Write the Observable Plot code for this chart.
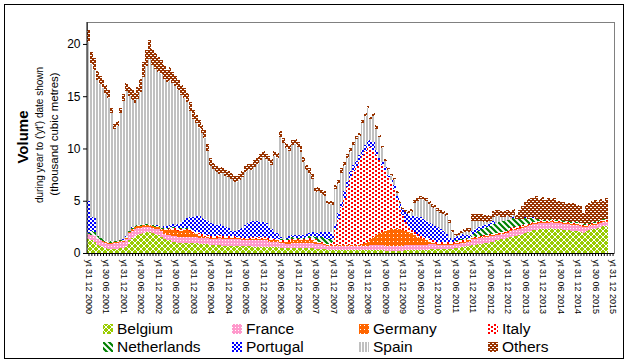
<!DOCTYPE html>
<html><head><meta charset="utf-8">
<script src="https://cdn.jsdelivr.net/npm/d3@7"></script>
<script src="https://cdn.jsdelivr.net/npm/@observablehq/plot@0.6"></script>
<style>
body{margin:0;background:#fff;font-family:"Liberation Sans",Arial,sans-serif;}
#wrap{position:relative;width:628px;height:363px;overflow:hidden;background:#fff;}
#border{position:absolute;left:4px;top:4px;width:620px;height:355px;border:1px solid #000;box-sizing:border-box;}
#chart{position:absolute;left:0;top:0;}
.item{position:absolute;display:flex;align-items:center;height:16px;font-size:15.5px;color:#000;white-space:nowrap;}
.item svg{margin-right:4px;display:block;}
</style></head>
<body>
<svg width="0" height="0" style="position:absolute">
<defs>
<pattern id="pBE" width="6" height="6" patternUnits="userSpaceOnUse"><rect width="6" height="6" fill="#99CC00"/><path d="M0,0L6,6M6,0L0,6" stroke="#fff" stroke-width="1"/></pattern>
<pattern id="pFR" width="3" height="3" patternUnits="userSpaceOnUse"><rect width="3" height="3" fill="#FF99CC"/><rect width="1" height="1" fill="#fff"/></pattern>
<pattern id="pDE" width="4" height="4" patternUnits="userSpaceOnUse"><rect width="4" height="4" fill="#FF6600"/><rect x="1" y="1" width="1" height="1" fill="#fff"/></pattern>
<pattern id="pIT" width="6" height="4" patternUnits="userSpaceOnUse"><rect width="6" height="4" fill="#fff"/><rect width="2" height="2" fill="#FF0000"/><rect x="3" y="2" width="2" height="2" fill="#FF0000"/></pattern>
<pattern id="pNL" width="6" height="6" patternUnits="userSpaceOnUse"><rect width="6" height="6" fill="#fff"/><path d="M0,0L6,6M-3,3L3,9M3,-3L9,3" stroke="#008000" stroke-width="2.2"/></pattern>
<pattern id="pPT" width="4" height="4" patternUnits="userSpaceOnUse"><rect width="4" height="4" fill="#fff"/><rect width="2" height="2" fill="#0000FF"/><rect x="2" y="2" width="2" height="2" fill="#0000FF"/></pattern>
<pattern id="pES" width="3" height="3" patternUnits="userSpaceOnUse"><rect width="3" height="3" fill="#fff"/><rect width="2" height="3" fill="#C0C0C0"/></pattern>
<pattern id="pOT" width="4" height="4" patternUnits="userSpaceOnUse"><rect width="4" height="4" fill="#993300"/><rect x="0" y="1" width="2" height="1" fill="#fff"/><rect x="2" y="3" width="2" height="1" fill="#fff"/></pattern>
</defs></svg>
<div id="wrap"><div id="border"></div><div id="chart"></div><div id="legend"></div></div>
<script>
const series = ["Belgium","France","Germany","Italy","Netherlands","Portugal","Spain","Others"];
const patternFills = ["url(#pBE)","url(#pFR)","url(#pDE)","url(#pIT)","url(#pNL)","url(#pPT)","url(#pES)","url(#pOT)"];

const tickLabels = ["yt 31 12 2000","yt 30 06 2001","yt 31 12 2001","yt 30 06 2002","yt 31 12 2002","yt 30 06 2003","yt 31 12 2003","yt 30 06 2004","yt 31 12 2004","yt 30 06 2005","yt 31 12 2005","yt 30 06 2006","yt 31 12 2006","yt 30 06 2007","yt 31 12 2007","yt 30 06 2008","yt 31 12 2008","yt 30 06 2009","yt 31 12 2009","yt 30 06 2010","yt 31 12 2010","yt 30 06 2011","yt 31 12 2011","yt 30 06 2012","yt 31 12 2012","yt 30 06 2013","yt 31 12 2013","yt 30 06 2014","yt 31 12 2014","yt 30 06 2015","yt 31 12 2015"];

const belgium = [
1.3,1.2,1.1,0.8,0.7,0.6,0.5,0.4,0.4,0.4,0.4,0.5,0.5,0.7,
1.2,1.4,1.6,1.7,1.8,1.9,2.0,2.0,1.9,1.8,1.7,1.5,
1.3,1.2,1.2,1.1,1.1,1.0,1.0,1.0,1.0,1.0,1.0,1.0,0.9,0.9,0.9,
0.9,0.8,0.8,0.8,0.8,0.7,0.7,0.7,0.7,0.7,0.7,0.7,0.7,0.7,0.7,0.7,0.6,0.6,0.6,0.6,
0.6,0.6,0.6,0.6,0.6,0.5,0.5,0.5,0.5,0.5,0.5,0.5,0.5,0.5,0.5,0.5,0.5,0.4,0.4,0.4,0.4,0.3,0.3,
0.3,0.3,0.3,0.3,0.3,0.3,0.3,0.3,0.3,0.3,0.3,0.3,0.3,0.3,0.3,0.3,0.3,0.3,
0.2,0.2,0.2,0.2,0.2,0.2,0.2,
0.3,0.3,0.3,0.3,0.3,0.3,0.3,0.3,
0.4,0.4,0.4,0.4,0.4,0.4,0.4,0.4,0.4,
0.5,0.5,0.6,0.6,0.7,0.7,
0.8,0.8,0.9,0.9,1.0,1.0,1.1,1.1,1.2,1.2,1.3,1.3,1.4,1.5,1.6,1.6,1.7,1.8,1.9,
2.0,2.1,2.2,2.2,2.3,2.3,2.3,2.3,2.4,2.3,2.3,2.3,2.2,2.2,2.2,2.1,2.1,2.1,2.0,1.9,
2.1,2.2,2.3,2.3,2.4,2.5,2.6,2.6,
0,0];

const france = [
0.5,0.5,0.5,0.5,0.5,0.5,0.5,0.5,0.5,0.6,0.6,0.6,0.6,0.6,
0.7,0.7,0.7,0.7,0.6,0.6,0.5,0.5,0.5,0.5,0.6,0.6,
0.5,0.5,0.5,0.5,0.5,0.5,0.5,0.5,0.5,0.5,0.5,0.5,0.5,0.5,0.5,
0.5,0.5,0.5,0.5,0.6,0.6,0.6,0.6,0.6,0.6,0.6,0.6,0.5,0.5,0.5,0.5,0.6,0.6,0.6,0.6,
0.6,0.5,0.5,0.5,0.5,0.5,0.5,0.4,0.4,0.5,0.5,0.5,0.5,0.5,0.5,0.5,0.5,0.5,0.5,0.5,0.4,0.4,0.4,
0.4,0.4,0.4,0.4,0.4,0.4,0.4,0.4,0.4,0.4,0.4,0.4,0.4,
0.5,0.5,0.5,0.5,0.5,0.5,0.5,0.5,0.5,0.5,0.5,0.5,0.5,0.5,0.5,0.5,0.5,0.5,0.5,0.5,0.5,0.5,0.5,
0.4,0.4,0.4,0.4,0.4,0.4,0.4,0.4,0.4,0.4,0.4,0.4,
0.5,0.5,0.5,0.5,0.5,0.5,0.5,0.5,0.5,0.5,0.5,0.5,0.5,
0.6,0.6,0.6,0.6,0.6,0.6,0.6,0.6,0.6,0.6,0.6,0.6,0.6,0.6,0.6,0.6,0.6,0.6,0.6,0.6,0.6,0.6,0.6,0.6,0.6,0.6,
0.4,0.4,0.4,0.4,0.4,0.4,0.4,0.4,
0,0];

const germany = [
0.05,0.05,0.05,0.05,0.05,0.05,0.05,0.05,0.05,0.05,0.05,0.05,0.05,
0.1,0.15,
0.2,0.2,0.2,0.2,0.2,0.2,0.2,0.2,0.2,0.2,0.2,
0.4,0.5,0.6,0.6,0.6,0.6,0.6,0.7,0.7,0.6,0.4,0.3,0.2,0.2,0.1,
0.1,0.1,0.1,0.1,0.1,0.1,0.1,0.1,0.1,0.1,0.1,0.1,0.1,0.1,0.1,0.1,0.1,0.1,0.1,0.1,0.1,0.1,0.1,0.1,0.1,0.1,0.1,
0.2,0.2,0.2,0.2,0.2,0.2,0.2,0.2,0.2,0.2,0.2,
0.1,0.1,0.1,0.1,0.1,0.1,0.1,0.1,0.1,0.1,0.1,0.1,0.1,0.1,0.1,
0.2,0.3,0.4,0.5,0.7,0.9,1.1,1.2,1.4,1.5,1.6,1.6,1.6,1.6,1.5,1.3,1.2,1.1,0.9,0.7,0.6,0.5,0.4,0.2,0.1,0.1,
0.1,0.1,0.1,0.1,0.1,0.1,0.1,0.1,0.1,0.1,0.1,0.1,0.1,0.1,0.1,0.1,0.1,0.1,0.1,0.1,
0.1,0.1,0.1,0.1,0.1,0.1,0.1,0.1,0.1,0.1,0.1,0.1,0.1,0.1,0.1,0.1,0.1,0.1,0.1,0.1,
0.1,0.1,0.1,0.1,0.1,0.1,0.1,0.1,0.1,0.1,0.1,0.1,0.1,0.1,0.1,0.1,0.1,0.1,0.1,
0,0];

const italy = [
0,0,0,0,0,0,0,0,0,0,0,0,0,0,0,0,0,0,0,0,0,0,0,0,0,0,
0.1,0.1,0.1,0.2,0.2,0.2,0.2,0.1,0.1,0.2,0.2,0.2,0.3,0.2,0.3,
0.2,0.2,0.2,0.2,0.2,0.2,0.2,0.2,0.2,0.2,0.1,0.1,0.1,0.1,0.1,0.2,0.2,0.2,0.2,0.2,0.2,0.2,0.2,0.1,0.1,
0.1,0.1,0.1,0.1,0.1,0.1,0.1,0.1,0.1,
0.2,0.2,0.2,0.2,
0.1,0.1,0.1,0.1,
0.2,
0.3,1.4,2.5,3.6,4.5,5.5,6.4,7.0,7.5,8.1,8.5,8.8,9.1,8.8,8.4,7.7,
7.0,6.4,5.8,5.1,4.5,3.8,2.8,2.0,1.4,0.9,0.6,0.3,0.3,0.3,
0.2,0.2,0.2,0.2,0.2,0.2,0.2,0.2,0.2,0.2,0.2,0.2,
0.15,0.15,0.15,0.15,0.15,0.15,0.15,0.15,0.15,0.15,0.15,0.15,0.15,0.15,0.15,0.15,0.15,0.15,0.15,0.15,0.15,0.15,0.15,0.15,0.15,
0.05,0.05,0.05,0.05,0.05,0.05,0.05,0.05,0.05,0.05,0.05,0.05,0.05,0.05,0.05,0.05,0.05,0.05,0.05,0.05,0.05,0.05,0.05,0.05,0.05,0.05,0.05,0.05,
0,0];

const netherlands = [
0.1,0.4,0.4,0.3,0.2,0.2,0.1,0.1,0.2,0.1,0.1,0.1,0.1,0.1,
0.05,0.05,0.05,0.05,0.05,0.05,0.05,0.05,0.05,0.05,
0.05,0.05,0.05,0.05,0.05,0.05,0.05,0.05,0.05,0.05,
0.05,0.05,0.05,0.05,0.05,0.05,0.05,0.05,0.05,0.05,
0.05,0.05,0.05,0.05,0.05,0.05,0.05,0.05,0.05,0.05,
0.05,0.05,0.05,0.05,0.05,0.05,0.05,0.05,0.05,0.05,
0.05,0.05,
0.1,0.1,0.1,0.2,0.2,0.1,0.1,0.1,0.1,0.1,0.2,0.2,0.2,
0.3,0.4,0.4,0.4,0.3,0.2,0.1,
0,0,0,0,0,0,0,0,0,0,
0,0,0,0,0,0,0,0,0,0,
0,0,0,0,0,0,0,0,0,0,
0,0,0,0,0,0,0,0,0,0,
0.1,0.1,0.1,0.1,0.1,0.1,
0.3,0.4,0.5,0.6,0.6,0.7,0.7,0.9,0.9,1.0,1.0,1.0,1.0,0.9,0.9,0.8,0.7,0.6,0.6,0.5,0.5,0.4,0.3,0.2,
0.1,0.1,0.1,0.1,0.1,0.1,0.1,0.1,0.1,0.1,
0.1,0.1,0.1,0.1,0.1,0.1,0.1,0.1,0.1,0.1,
0.1,0.1,0.1,
0,0];

const portugal = [
3.0,1.3,1.3,
0,0,0,0,0,0,0,0,0,
0.1,0.1,
0,0.1,0,0,0,0,0,0,0,0.1,0.1,0,
0.2,0.2,0.2,0.3,0.2,0.4,0.6,0.8,1.0,1.1,1.3,1.5,1.6,1.5,1.4,
1.3,1.2,1.1,1.0,1.0,0.9,0.8,0.7,0.5,0.5,0.6,0.7,0.9,1.2,1.4,1.5,1.5,1.5,1.4,1.4,
1.3,1.1,0.8,0.7,0.6,0.2,0,0.1,0.2,0.2,0.3,0.3,0.3,0.3,0.3,0.3,0.4,0.4,0.5,0.5,0.6,0.7,0.7,
0.5,0.5,0.5,0.5,0.6,0.6,0.6,0.6,0.5,0.5,0.5,0.5,0.5,0.7,0.7,0.5,
0.2,0.3,0.3,0.2,0.2,0.4,0.4,0.4,0.6,0.9,1.1,1.3,1.5,1.6,1.8,1.8,1.7,1.6,1.6,1.4,1.4,1.2,1.0,0.7,0.3,0.1,
0.3,0.4,0.5,0.4,0.3,0.3,0.3,0.3,0.3,0.3,0.3,0.3,0.3,0.3,
0.05,0.05,0.05,0.05,0.05,0.05,0.05,0.05,0.05,0.05,
0.05,0.05,0.05,0.05,0.05,0.05,0.05,0.05,0.05,0.05,
0.05,0.05,0.05,0.05,0.05,0.05,0.05,0.05,0.05,0.05,
0.05,0.05,0.05,0.05,0.05,0.05,0.05,0.05,0.05,
0,0];

const spain = [
15.2,14.6,14.2,14.9,14.7,14.4,14.1,13.8,12.2,10.7,11.0,12.1,13.2,13.9,
12.9,12.2,11.8,12.1,12.8,14.1,15.1,15.8,15.3,15.0,14.7,14.8,
14.1,13.8,13.9,13.5,13.3,12.8,12.2,11.7,11.1,10.1,9.4,8.9,8.4,8.1,7.8,
6.7,5.5,5.3,5.1,4.8,5.1,4.9,4.9,4.9,4.6,4.6,4.7,4.9,5.1,5.1,4.9,5.2,5.5,5.9,6.2,
6.1,6.2,6.2,7.2,7.1,9.6,9.2,8.6,8.2,8.6,8.7,8.4,8.0,7.0,6.1,5.7,5.1,3.9,4.0,3.6,3.5,2.7,2.7,
2.8,3.3,2.8,2.8,2.4,2.2,1.9,1.9,2.1,1.8,2.5,2.8,3.2,2.0,2.5,2.0,
2.0,1.3,0.6,0.4,0.4,0.5,0.2,0.1,0,0,0,0.4,1.3,1.6,1.8,1.8,1.9,1.8,1.6,1.7,1.5,1.5,1.6,1.7,1.5,0.8,
0.1,0.1,0.1,0.3,0.3,0.3,
0.9,0.8,0.6,0.5,0.3,0.2,0.2,0.4,0.6,0.5,0.3,0.3,0.3,0.1,0.2,
0,0,0,0,0,0,0,0,0,0,
0,0,0,0,0,0,0,0,0,0,
0,0,0,0,0,0,0,0,0,0,
0,0,
0,0];

const others = [
1.2,1.2,1.1,0.9,0.8,0.8,0.8,0.7,0.5,0.5,0.5,0.5,0.7,0.8,
0.9,1.0,1.0,1.1,1.2,1.4,1.6,1.8,1.6,1.5,1.4,1.3,
1.3,1.2,1.2,1.1,1.0,1.0,0.9,0.9,0.9,0.9,0.8,0.8,0.8,0.8,0.7,
0.7,0.7,
0.6,0.6,0.6,0.6,0.6,0.6,0.6,0.6,0.6,0.6,
0.6,0.6,0.6,0.6,0.6,0.6,0.6,0.6,
0.5,0.5,0.5,0.5,0.5,0.6,0.5,0.5,0.5,0.5,
0.5,0.5,0.5,0.5,0.5,0.5,0.5,
0.4,0.4,0.4,0.4,0.3,0.3,0.3,
0.4,0.4,0.4,0.4,0.4,
0.3,0.3,0.3,0.3,0.3,0.3,
0.2,0.2,
0.3,0.3,
0.2,0.2,0.2,0.2,0.2,0.2,0.2,0.2,0.2,
0.2,
0.3,0.3,0.3,0.3,0.3,0.3,0.3,0.3,0.3,0.3,
0.3,0.3,0.3,0.3,0.3,
0.2,0.2,0.2,0.2,0.2,
0.3,0.3,
0.7,0.7,0.7,0.7,0.7,0.7,
0.5,
0.6,0.6,0.6,0.6,0.6,0.6,0.6,0.6,
0.3,
0.8,1.2,1.5,1.9,1.9,1.9,2.2,1.9,2.2,1.9,
2.1,1.9,2.1,1.8,1.8,1.8,1.6,1.7,1.8,1.8,
1.6,1.6,1.0,1.8,1.9,2.0,2.1,1.8,2.0,1.7,
2.0,
0,0];

const seriesValues = [belgium, france, germany, italy, netherlands, portugal, spain, others];

// month categories: Dec 2000 .. Dec 2015
const months = [];
for (let i = 0; i < 181; i++) {
  const y = 2000 + Math.floor((11 + i) / 12), m = (11 + i) % 12 + 1;
  months.push(y + "-" + String(m).padStart(2, "0"));
}
const bad = seriesValues.map((a, k) => series[k] + ":" + a.length).filter((s, k) => seriesValues[k].length !== 181);
if (bad.length) throw new Error("lengths " + bad.join(", "));

const data = [];
months.forEach((mo, i) => seriesValues.forEach((vals, k) => data.push({month: mo, series: series[k], value: vals[i]})));
const tickData = tickLabels.map((label, j) => ({month: months[j * 6], label}));

const font = "Liberation Sans, Arial, sans-serif";
const chart = Plot.plot({
  width: 628, height: 318,
  marginLeft: 87, marginRight: 14, marginTop: 22, marginBottom: 65,
  style: {fontFamily: font, background: "transparent", overflow: "visible", color: "#000"},
  x: {type: "band", domain: months, padding: 0, axis: null},
  y: {domain: [0, 22.1], axis: null},
  color: {domain: series, range: patternFills},
  marks: [
    Plot.frame({stroke: "#808080"}),
    Plot.barY(data, {x: "month", y: "value", fill: "series", shapeRendering: "crispEdges"}),
    Plot.ruleY([0], {stroke: "#000"}),
    Plot.axisY({ticks: [0, 5, 10, 15, 20], tickSize: 4, tickPadding: 3, fontSize: 12, label: null}),
    Plot.axisX({ticks: months, tickSize: 3, tickFormat: () => "", label: null}),
    Plot.text(tickData, {x: "month", text: "label", frameAnchor: "bottom", rotate: 90, textAnchor: "start", dy: 6, dx: -3, fontSize: 9}),
    Plot.text(["Volume"], {text: d => d, frameAnchor: "left", textAnchor: "middle", dx: -64, dy: -1, rotate: -90, fontWeight: "bold", fontSize: 15}),
    Plot.text(["during year to ('yt') date shown"], {text: d => d, frameAnchor: "left", textAnchor: "middle", dx: -48, dy: -3, rotate: -90, fontSize: 10}),
    Plot.text(["(thousand cubic metres)"], {text: d => d, frameAnchor: "left", textAnchor: "middle", dx: -33, dy: -4, rotate: -90, fontSize: 11.5})
  ]
});
document.getElementById("chart").appendChild(chart);

// black left axis line, placed from the plot's own scales
const xs = chart.scale("x"), ys = chart.scale("y");
d3.select(chart).append("line")
  .attr("x1", xs.range[0]).attr("x2", xs.range[0])
  .attr("y1", ys.range[0]).attr("y2", ys.range[1])
  .attr("stroke", "#000");

// legend
const legendSlots = [[103,321],[232,321],[359,321],[488,321],[103,339],[232,339],[359,339],[488,339]];
const legend = document.getElementById("legend");
series.forEach((s, k) => {
  const div = document.createElement("div");
  div.className = "item";
  div.style.left = legendSlots[k][0] + "px";
  div.style.top = legendSlots[k][1] + "px";
  div.innerHTML = `<svg width="10" height="10"><rect width="10" height="10" fill="${patternFills[k]}"/></svg><span>${s}</span>`;
  legend.appendChild(div);
});
</script>
</body></html>
